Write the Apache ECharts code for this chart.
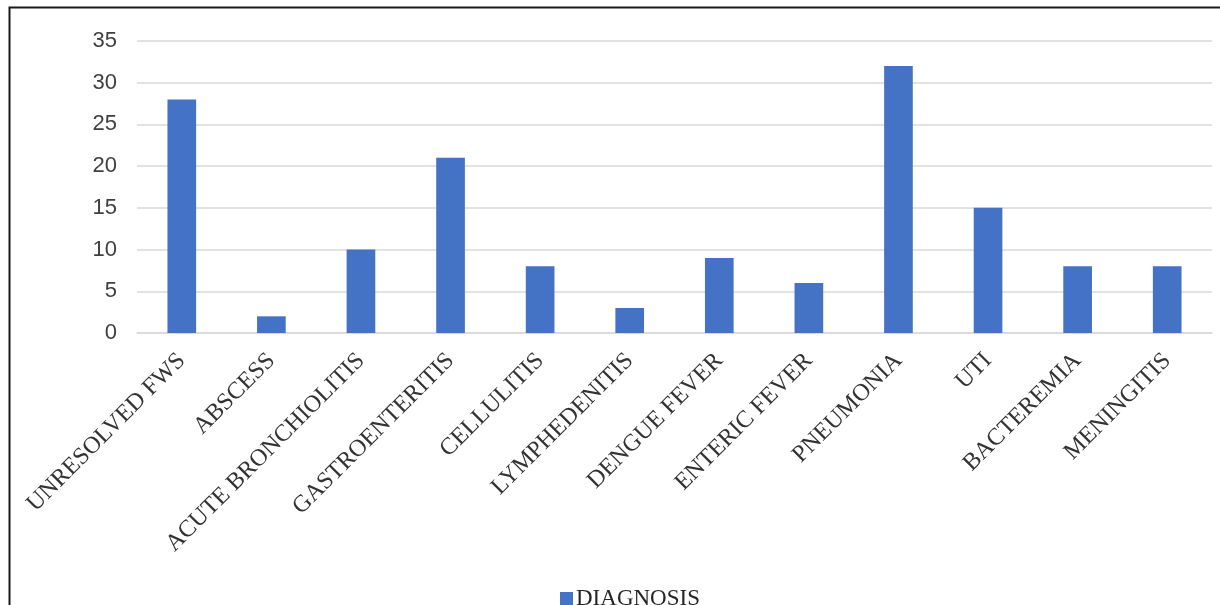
<!DOCTYPE html>
<html>
<head>
<meta charset="utf-8">
<script src="https://cdn.jsdelivr.net/npm/echarts@6/dist/echarts.min.js"></script>
<style>
  html, body { margin: 0; padding: 0; background: #ffffff; }
  #chart { width: 1220px; height: 605px; }
</style>
</head>
<body>
<div id="chart"></div>
<script>
// Diagnosis counts
const categories = [
  'UNRESOLVED FWS', 'ABSCESS', 'ACUTE BRONCHIOLITIS', 'GASTROENTERITIS',
  'CELLULITIS', 'LYMPHEDENITIS', 'DENGUE FEVER', 'ENTERIC FEVER',
  'PNEUMONIA', 'UTI', 'BACTEREMIA', 'MENINGITIS'
];
const diagnosisCounts = [28, 2, 10, 21, 8, 3, 9, 6, 32, 15, 8, 8];
const seriesName = 'DIAGNOSIS';
const yMin = 0, yMax = 35, yStep = 5;

const chart = echarts.init(document.getElementById('chart'), null, { renderer: 'canvas' });

chart.setOption({
  animation: false,
  backgroundColor: '#ffffff',
  graphic: [{
    type: 'rect',
    shape: { x: 9.5, y: 7.5, width: 1230, height: 620 },
    style: { fill: 'none', stroke: '#1a1a1a', lineWidth: 2 },
    silent: true
  }],
  grid: { left: 137, right: 8, top: 41, bottom: 272 },
  legend: {
    data: [seriesName],
    left: 555,
    top: 582,
    icon: 'rect',
    itemWidth: 13,
    itemHeight: 13,
    itemGap: 4,
    textStyle: { fontFamily: 'Liberation Serif', fontSize: 23, color: '#262626', padding: [0, 0, 0, -2] }
  },
  xAxis: {
    type: 'category',
    data: categories,
    axisLine: { show: true, lineStyle: { color: '#d9d9d9', width: 1.5 } },
    axisTick: { show: false },
    axisLabel: {
      interval: 0,
      rotate: 45,
      margin: 24,
      fontFamily: 'Liberation Serif',
      fontSize: 24,
      color: '#333333'
    }
  },
  yAxis: {
    type: 'value',
    min: yMin,
    max: yMax,
    interval: yStep,
    axisLine: { show: false },
    axisTick: { show: false },
    splitLine: { lineStyle: { color: '#d9d9d9', width: 1.5 } },
    axisLabel: {
      margin: 20,
      fontFamily: 'Liberation Sans',
      fontSize: 22,
      color: '#404040'
    }
  },
  series: [{
    name: seriesName,
    type: 'bar',
    data: diagnosisCounts,
    barWidth: '32%',
    itemStyle: { color: '#4472c4' }
  }]
});
</script>
</body>
</html>
